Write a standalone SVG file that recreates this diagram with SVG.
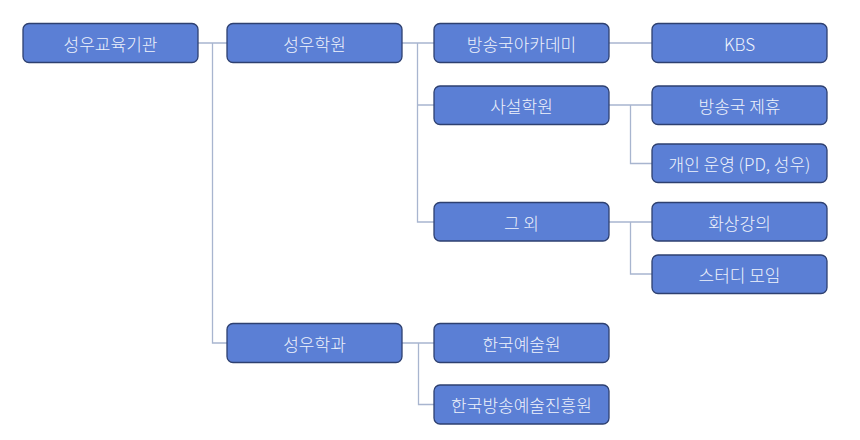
<svg xmlns="http://www.w3.org/2000/svg" width="860" height="440" viewBox="0 0 860 440">
<style>
.n rect{fill:#5b7fd5;stroke:#2e4070;stroke-width:1.3}
.n text{fill:#eef2fc;font-family:"Noto Sans CJK KR","Noto Sans",sans-serif;font-size:17px;font-weight:300;text-anchor:middle;dominant-baseline:central}
.c path{fill:none;stroke:#a8b5cf;stroke-width:1.3}
</style>
<rect width="860" height="440" fill="#ffffff"/>
<g class="c" id="connectors">
<path d="M198 43H227M212.5 43V343H227"/>
<path d="M402 43H434M417.5 43V222H434M417.5 105H434"/>
<path d="M609 43H652"/>
<path d="M609 105H652M630.5 105V163.5H652"/>
<path d="M609 222H652M630.5 222V274H652"/>
<path d="M402 343H434M418.5 343V404.5H434"/>
</g>
<g class="n" id="n-root"><rect x="23" y="23.5" width="175" height="39" rx="6"/><text x="110.5" y="43">성우교육기관</text></g>
<g class="n" id="n-academy"><rect x="227" y="23.5" width="175" height="39" rx="6"/><text x="314.5" y="43">성우학원</text></g>
<g class="n" id="n-dept"><rect x="227" y="323.5" width="175" height="39" rx="6"/><text x="314.5" y="343">성우학과</text></g>
<g class="n" id="n-bcast"><rect x="434" y="23.5" width="175" height="39" rx="6"/><text x="521.5" y="43">방송국아카데미</text></g>
<g class="n" id="n-private"><rect x="434" y="86" width="175" height="38.5" rx="6"/><text x="521.5" y="105">사설학원</text></g>
<g class="n" id="n-other"><rect x="434" y="202.5" width="175" height="38.5" rx="6"/><text x="521.5" y="222">그 외</text></g>
<g class="n" id="n-kbs"><rect x="652" y="23.5" width="175" height="39" rx="6"/><text x="739.5" y="43">KBS</text></g>
<g class="n" id="n-partner"><rect x="652" y="86" width="175" height="38.5" rx="6"/><text x="739.5" y="105">방송국 제휴</text></g>
<g class="n" id="n-personal"><rect x="652" y="144" width="175" height="38.5" rx="6"/><text x="739.5" y="163.5">개인 운영 (PD, 성우)</text></g>
<g class="n" id="n-video"><rect x="652" y="202.5" width="175" height="38.5" rx="6"/><text x="739.5" y="222">화상강의</text></g>
<g class="n" id="n-study"><rect x="652" y="255" width="175" height="38.5" rx="6"/><text x="739.5" y="274">스터디 모임</text></g>
<g class="n" id="n-kart"><rect x="434" y="323.5" width="175" height="39" rx="6"/><text x="521.5" y="343">한국예술원</text></g>
<g class="n" id="n-kbart"><rect x="434" y="385" width="175" height="39" rx="6"/><text x="521.5" y="404.5">한국방송예술진흥원</text></g>
</svg>
